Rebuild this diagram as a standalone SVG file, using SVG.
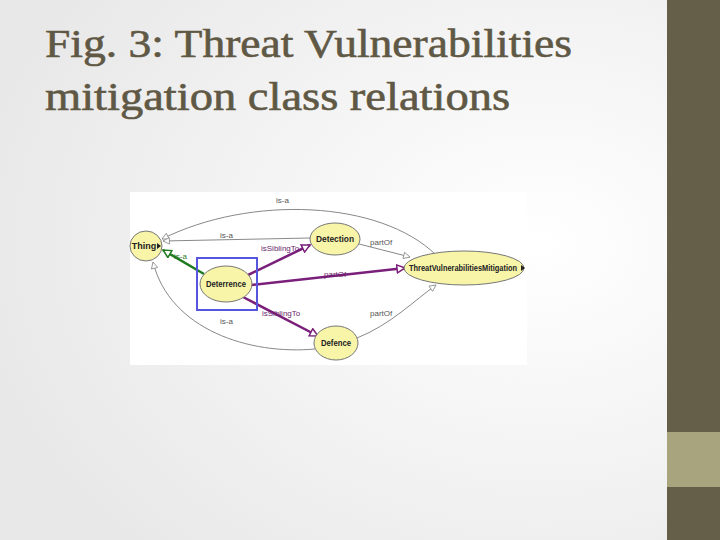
<svg xmlns="http://www.w3.org/2000/svg" width="720" height="540" viewBox="0 0 720 540">
<defs>
<radialGradient id="bg" cx="0.75" cy="0.45" r="0.8"><stop offset="0" stop-color="#ffffff"/><stop offset="1" stop-color="#e8e8e8"/></radialGradient>
<marker id="ho" viewBox="0 0 10 10" refX="9" refY="5" markerWidth="8" markerHeight="8" orient="auto" markerUnits="userSpaceOnUse"><path d="M1,1 L9,5 L1,9 Z" fill="#fff" stroke="#888" stroke-width="1"/></marker>
<marker id="hp" viewBox="0 0 10 10" refX="9" refY="5" markerWidth="10" markerHeight="10" orient="auto" markerUnits="userSpaceOnUse"><path d="M1,1 L9,5 L1,9 Z" fill="#fff" stroke="#7a1f7a" stroke-width="1.5"/></marker>
<marker id="hg" viewBox="0 0 10 10" refX="9" refY="5" markerWidth="10" markerHeight="10" orient="auto" markerUnits="userSpaceOnUse"><path d="M1,1 L9,5 L1,9 Z" fill="#fff" stroke="#1f7a1f" stroke-width="1.5"/></marker>
<style>
.t{font-family:"Liberation Serif",serif;font-size:40px;fill:#5f5845;stroke:#5f5845;stroke-width:0.6}
.n{fill:#f8f4a8;stroke:#777;stroke-width:1}
.nl{font-family:"Liberation Sans",Arial,sans-serif;font-size:9px;font-weight:bold;fill:#222;text-anchor:middle}
.el{font-family:"Liberation Sans",Arial,sans-serif;font-size:8px;fill:#555}
.pl{font-family:"Liberation Sans",Arial,sans-serif;font-size:8px;fill:#6a1f6a}
.g{fill:none;stroke:#888;stroke-width:1}
.p{fill:none;stroke:#7a1f7a;stroke-width:2.5}
</style>
</defs>
<rect width="720" height="540" fill="url(#bg)"/>
<rect x="667" y="0" width="53" height="540" fill="#655e49"/>
<rect x="667" y="432" width="53" height="55" fill="#a8a47e"/>
<text class="t" x="45" y="57" textLength="527" lengthAdjust="spacingAndGlyphs">Fig. 3: Threat Vulnerabilities</text>
<text class="t" x="45" y="110" textLength="465" lengthAdjust="spacingAndGlyphs">mitigation class relations</text>
<rect x="130" y="192" width="397" height="173" fill="#fff"/>
<g id="connectors">
<path class="g" d="M436,255 C380,200 250,195 162,239" marker-end="url(#ho)"/>
<text class="el" x="276" y="203">is-a</text>
<path class="g" d="M310,238 L163,241" marker-end="url(#ho)"/>
<text class="el" x="220" y="238">is-a</text>
<path d="M204,274 L163,250" fill="none" stroke="#1f7a1f" stroke-width="2.5" marker-end="url(#hg)"/>
<text x="174" y="259" font-family="Liberation Sans,Arial,sans-serif" font-size="8" fill="#1f7a1f">is-a</text>
<path class="g" d="M315,349 C250,355 170,330 153,262" marker-end="url(#ho)"/>
<text class="el" x="220" y="324">is-a</text>
<path class="p" d="M248,275 L310,245" marker-end="url(#hp)"/>
<text class="pl" x="261" y="251">isSiblingTo</text>
<path class="p" d="M251,285 L405,268" marker-end="url(#hp)"/>
<text class="pl" x="324" y="277">partOf</text>
<path class="p" d="M243,297 L318,336" marker-end="url(#hp)"/>
<text class="pl" x="262" y="316">isSiblingTo</text>
<path class="g" d="M359,244 L410,257" marker-end="url(#ho)"/>
<text class="el" x="370" y="245">partOf</text>
<path class="g" d="M357,338 C390,325 415,300 436,285" marker-end="url(#ho)"/>
<text class="el" x="370" y="316">partOf</text>
</g>
<g id="Thing"><ellipse class="n" cx="146" cy="246" rx="16" ry="15"/><text class="nl" x="144" y="249">Thing</text><path d="M157,243 L161,246 L157,249 Z" fill="#222"/></g>
<g id="Detection"><ellipse class="n" cx="335" cy="239" rx="25" ry="16"/><text class="nl" x="335" y="242" textLength="38" lengthAdjust="spacingAndGlyphs">Detection</text></g>
<g id="TVM"><ellipse class="n" cx="464" cy="268" rx="60" ry="17"/><text class="nl" x="463" y="271" textLength="108" lengthAdjust="spacingAndGlyphs">ThreatVulnerabilitiesMitigation</text><path d="M521,265 L525,268 L521,271 Z" fill="#222"/></g>
<g id="Deterrence"><rect x="197" y="258" width="60" height="52" fill="none" stroke="#5555dd" stroke-width="2"/><ellipse class="n" cx="226" cy="284" rx="26" ry="18"/><text class="nl" x="226" y="287" textLength="40" lengthAdjust="spacingAndGlyphs">Deterrence</text></g>
<g id="Defence"><ellipse class="n" cx="336" cy="343" rx="22" ry="17"/><text class="nl" x="336" y="346" textLength="30" lengthAdjust="spacingAndGlyphs">Defence</text></g>
</svg>
